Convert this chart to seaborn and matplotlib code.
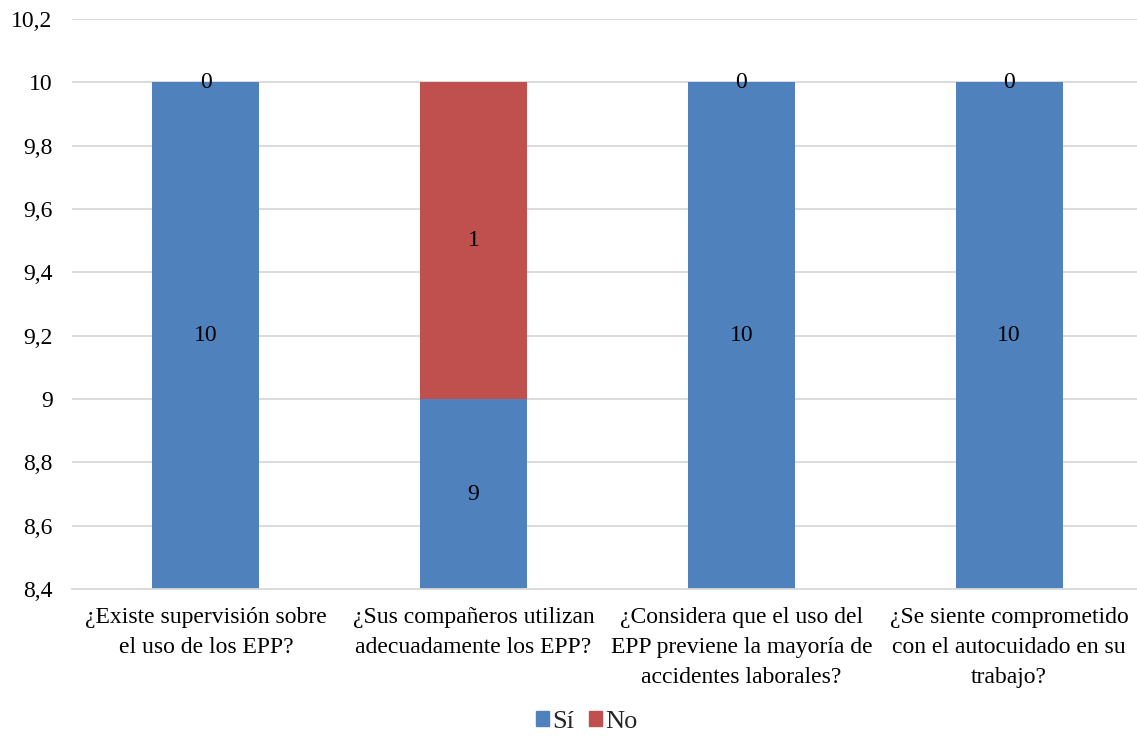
import matplotlib
matplotlib.use("Agg")
import matplotlib.pyplot as plt
import seaborn as sns
import pandas as pd
from matplotlib.patches import Patch
from matplotlib.ticker import FixedLocator, FuncFormatter

# Survey answers per question
preguntas = [
    "¿Existe supervisión sobre\nel uso de los EPP?",
    "¿Sus compañeros utilizan\nadecuadamente los EPP?",
    "¿Considera que el uso del\nEPP previene la mayoría de\naccidentes laborales?",
    "¿Se siente comprometido\ncon el autocuidado en su\ntrabajo?",
]
si = [10, 9, 10, 10]
no = [0, 1, 0, 0]

y_ticks = [8.4, 8.6, 8.8, 9.0, 9.2, 9.4, 9.6, 9.8, 10.0, 10.2]

AZUL = "#4F81BD"
ROJO = "#C0504D"
FS = 17

sns.set_theme(style="white")
plt.rcParams["font.family"] = ["Liberation Serif", "DejaVu Serif"]

df = pd.DataFrame({"pregunta": preguntas, "Sí": si, "No": no})
df["total"] = df["Sí"] + df["No"]

fig = plt.figure(figsize=(11.37, 7.36), dpi=100)
ax = fig.add_axes([72 / 1137, 1 - 589 / 736, 1 - 72 / 1137, (589 - 19) / 736])

ymin, ymax = y_ticks[0], y_ticks[-1]
ax.set_ylim(ymin, ymax)
for t in y_ticks[1:]:
    ax.axhline(t, color="#D9D9D9", lw=1.3, zorder=0)

# Stacked bars: totals in red underneath, "Sí" in blue on top
sns.barplot(data=df, x="pregunta", y="total", color=ROJO, width=0.4,
            saturation=1, linewidth=0, ax=ax, zorder=2)
sns.barplot(data=df, x="pregunta", y="Sí", color=AZUL, width=0.4,
            saturation=1, linewidth=0, ax=ax, zorder=3)

ax.set_xlim(-0.5, 3.5 - 6 / 268)

# Value labels centred in the visible part of each segment
for i, (s, n) in enumerate(zip(si, no)):
    ax.text(i, (max(ymin, 0) + s) / 2, f"{s}",
            ha="center", va="center", fontsize=FS, color="black", zorder=5)
    ax.text(i, (max(ymin, s) + s + n) / 2, f"{n}",
            ha="center", va="center", fontsize=FS, color="black", zorder=5)

ax.yaxis.set_major_locator(FixedLocator(y_ticks))
ax.yaxis.set_major_formatter(FuncFormatter(
    lambda v, p: (f"{v:.1f}".rstrip("0").rstrip(".")).replace(".", ",")))
ax.tick_params(axis="y", length=0, labelsize=FS, pad=14, colors="black")
ax.tick_params(axis="x", length=0, labelsize=FS, pad=13, colors="black")
ax.set_xticks(range(len(preguntas)))
ax.set_xticklabels(preguntas, linespacing=1.55)
ax.set_xlabel("")
ax.set_ylabel("")

for side in ["top", "right", "left"]:
    ax.spines[side].set_visible(False)
ax.spines["bottom"].set_color("#D9D9D9")
ax.spines["bottom"].set_linewidth(1.3)
ax.spines["bottom"].set_zorder(4)

handles = [Patch(color=AZUL, label="Sí"), Patch(color=ROJO, label="No")]
fig.legend(handles=handles, loc="center", bbox_to_anchor=(587 / 1137, 1 - 722 / 736),
           ncol=2, frameon=False, fontsize=19, handlelength=0.48, handleheight=0.48,
           handletextpad=0.15, columnspacing=0.55, borderpad=0)

fig.savefig("out.png", dpi=100)
